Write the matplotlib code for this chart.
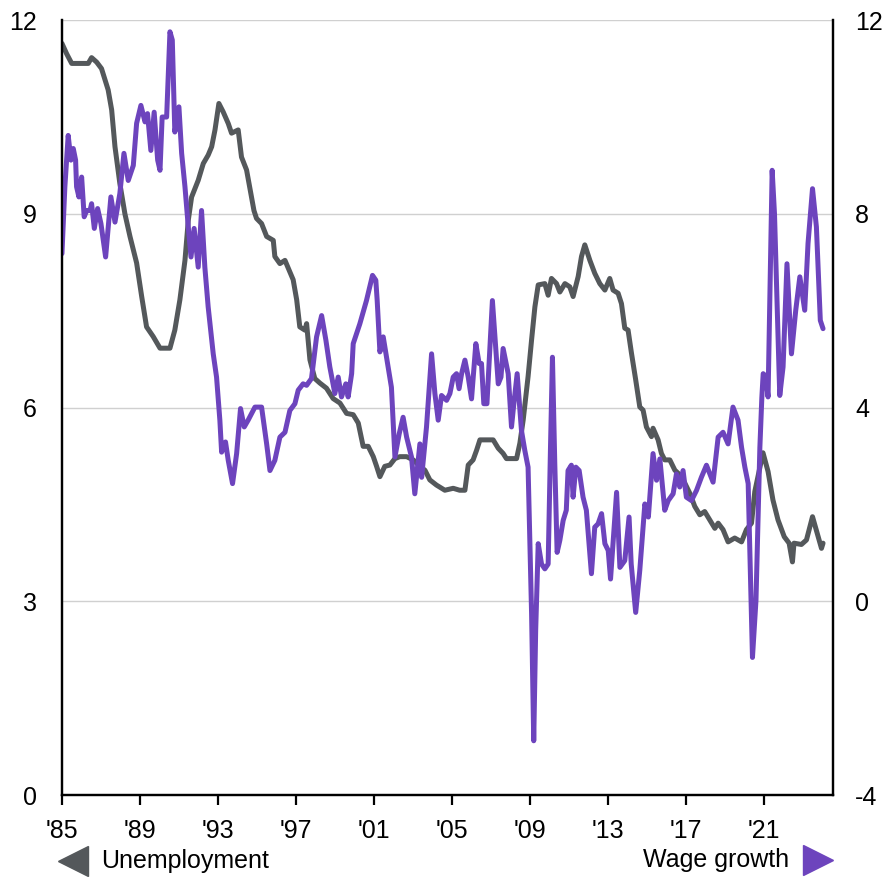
import matplotlib
matplotlib.use("Agg")
import matplotlib.pyplot as plt

plt.rcParams['font.family'] = ['Liberation Sans', 'DejaVu Sans']
plt.rcParams['axes.unicode_minus'] = False

# unemployment rate (left axis)
unemp_year = [1985.00, 1985.24, 1985.50, 1986.35, 1986.52, 1986.78, 1987.03, 1987.37, 1987.55, 1987.72,
              1987.97, 1988.23, 1988.49, 1988.83, 1989.09, 1989.34, 1989.68, 1990.03, 1990.54, 1990.79,
              1991.05, 1991.31, 1991.48, 1991.65, 1991.99, 1992.25, 1992.50, 1992.68, 1992.85, 1993.05,
              1993.27, 1993.53, 1993.70, 1994.04, 1994.21, 1994.47, 1994.85, 1994.98, 1995.24, 1995.50,
              1995.84, 1995.92, 1996.18, 1996.44, 1996.69, 1996.86, 1997.04, 1997.20, 1997.46, 1997.55,
              1997.72, 1997.97, 1998.23, 1998.57, 1998.91, 1999.26, 1999.60, 1999.94, 2000.20, 2000.45,
              2000.71, 2000.97, 2001.14, 2001.31, 2001.56, 2001.82, 2002.08, 2002.33, 2002.68, 2003.02,
              2003.36, 2003.62, 2003.87, 2004.21, 2004.64, 2005.07, 2005.40, 2005.67, 2005.84, 2006.09,
              2006.27, 2006.44, 2006.78, 2007.12, 2007.38, 2007.63, 2007.80, 2008.32, 2008.49, 2008.66,
              2008.91, 2009.09, 2009.26, 2009.43, 2009.77, 2009.94, 2010.11, 2010.37, 2010.54, 2010.80,
              2011.05, 2011.22, 2011.48, 2011.65, 2011.82, 2012.08, 2012.33, 2012.59, 2012.85, 2013.10,
              2013.27, 2013.53, 2013.70, 2013.87, 2014.04, 2014.21, 2014.42, 2014.64, 2014.81, 2014.98,
              2015.24, 2015.32, 2015.58, 2015.75, 2015.92, 2016.18, 2016.44, 2016.69, 2016.95, 2017.21,
              2017.46, 2017.72, 2017.97, 2018.23, 2018.49, 2018.66, 2018.91, 2019.17, 2019.51, 2019.86,
              2020.11, 2020.37, 2020.54, 2020.96, 2021.22, 2021.47, 2021.73, 2022.05, 2022.30, 2022.47,
              2022.55, 2022.93, 2023.19, 2023.50, 2023.96, 2024.04]
unemp_val = [11.64, 11.48, 11.33, 11.33, 11.42, 11.35, 11.25, 10.92, 10.61, 10.04,
             9.47, 9.00, 8.65, 8.24, 7.72, 7.25, 7.10, 6.92, 6.92, 7.20,
             7.67, 8.28, 8.90, 9.26, 9.52, 9.78, 9.91, 10.04, 10.30, 10.71,
             10.58, 10.40, 10.25, 10.30, 9.88, 9.68, 9.05, 8.93, 8.85, 8.65,
             8.59, 8.34, 8.23, 8.28, 8.10, 7.98, 7.67, 7.25, 7.20, 7.30,
             6.74, 6.45, 6.38, 6.30, 6.14, 6.07, 5.91, 5.89, 5.76, 5.40,
             5.40, 5.24, 5.09, 4.93, 5.09, 5.11, 5.21, 5.24, 5.24, 5.19,
             5.09, 5.03, 4.88, 4.80, 4.72, 4.75, 4.72, 4.72, 5.11, 5.19,
             5.34, 5.50, 5.50, 5.50, 5.37, 5.29, 5.21, 5.21, 5.45, 5.81,
             6.48, 7.05, 7.56, 7.90, 7.92, 7.74, 8.00, 7.92, 7.79, 7.92,
             7.87, 7.72, 8.03, 8.34, 8.52, 8.28, 8.08, 7.92, 7.82, 8.00,
             7.82, 7.77, 7.61, 7.23, 7.20, 6.85, 6.45, 6.01, 5.96, 5.70,
             5.55, 5.68, 5.50, 5.29, 5.19, 5.19, 5.03, 4.96, 4.83, 4.67,
             4.47, 4.34, 4.39, 4.26, 4.13, 4.21, 4.11, 3.92, 3.98, 3.92,
             4.11, 4.21, 4.70, 5.30, 5.01, 4.57, 4.26, 4.00, 3.90, 3.61,
             3.90, 3.88, 3.95, 4.31, 3.82, 3.90]

# wage growth (right axis)
wage_year = [1985.00, 1985.15, 1985.32, 1985.46, 1985.58, 1985.70, 1985.75, 1985.87, 1986.01, 1986.14,
             1986.27, 1986.44, 1986.52, 1986.66, 1986.83, 1987.00, 1987.24, 1987.51, 1987.72, 1987.97,
             1988.18, 1988.40, 1988.66, 1988.83, 1989.05, 1989.26, 1989.39, 1989.56, 1989.73, 1989.91,
             1990.03, 1990.14, 1990.37, 1990.54, 1990.66, 1990.79, 1991.00, 1991.14, 1991.31, 1991.48,
             1991.62, 1991.78, 1991.99, 1992.16, 1992.33, 1992.50, 1992.76, 1992.93, 1993.10, 1993.19,
             1993.39, 1993.53, 1993.75, 1993.96, 1994.16, 1994.35, 1994.55, 1994.90, 1995.24, 1995.50,
             1995.67, 1995.92, 1996.18, 1996.44, 1996.69, 1996.95, 1997.12, 1997.37, 1997.55, 1997.80,
             1998.06, 1998.32, 1998.54, 1998.74, 1999.00, 1999.17, 1999.34, 1999.56, 1999.68, 1999.86,
             1999.94, 2000.28, 2000.62, 2000.93, 2001.10, 2001.17, 2001.31, 2001.48, 2001.73, 2001.90,
             2002.08, 2002.30, 2002.50, 2002.68, 2002.93, 2003.10, 2003.36, 2003.45, 2003.70, 2003.96,
             2004.13, 2004.30, 2004.47, 2004.73, 2004.90, 2005.07, 2005.24, 2005.37, 2005.50, 2005.67,
             2005.84, 2006.01, 2006.23, 2006.40, 2006.52, 2006.64, 2006.80, 2007.08, 2007.21, 2007.38,
             2007.52, 2007.63, 2007.89, 2008.06, 2008.18, 2008.35, 2008.57, 2008.74, 2008.91, 2009.09,
             2009.20, 2009.30, 2009.43, 2009.60, 2009.77, 2009.94, 2010.06, 2010.16, 2010.28, 2010.40,
             2010.54, 2010.71, 2010.87, 2010.96, 2011.13, 2011.22, 2011.36, 2011.53, 2011.73, 2011.90,
             2012.16, 2012.33, 2012.50, 2012.68, 2012.85, 2013.02, 2013.14, 2013.31, 2013.45, 2013.62,
             2013.87, 2014.09, 2014.20, 2014.43, 2014.64, 2014.90, 2015.08, 2015.32, 2015.50, 2015.67,
             2015.92, 2016.10, 2016.35, 2016.52, 2016.69, 2016.86, 2017.03, 2017.29, 2017.55, 2017.80,
             2018.06, 2018.40, 2018.66, 2018.91, 2019.17, 2019.42, 2019.68, 2019.86, 2020.03, 2020.20,
             2020.42, 2020.60, 2020.80, 2020.90, 2020.97, 2021.10, 2021.22, 2021.43, 2021.55, 2021.82,
             2021.99, 2022.19, 2022.42, 2022.64, 2022.85, 2023.10, 2023.27, 2023.50, 2023.70, 2023.90,
             2024.04]
wage_val = [7.18, 8.56, 9.62, 9.11, 9.35, 9.11, 8.56, 8.35, 8.76, 7.94,
            8.07, 8.07, 8.21, 7.70, 8.11, 7.80, 7.11, 8.35, 7.83, 8.42,
            9.25, 8.69, 9.00, 9.87, 10.24, 9.90, 10.07, 9.31, 10.10, 9.11,
            8.90, 10.00, 10.00, 11.76, 11.59, 9.69, 10.21, 9.25, 8.56, 7.73,
            7.11, 7.70, 6.90, 8.07, 6.90, 6.08, 5.11, 4.63, 3.74, 3.08,
            3.29, 2.91, 2.43, 3.05, 3.98, 3.60, 3.74, 4.01, 4.01, 3.25,
            2.70, 2.91, 3.39, 3.49, 3.94, 4.08, 4.36, 4.49, 4.46, 4.60,
            5.46, 5.90, 5.39, 4.84, 4.29, 4.63, 4.22, 4.49, 4.22, 4.70,
            5.32, 5.73, 6.21, 6.73, 6.63, 6.21, 5.15, 5.46, 4.84, 4.42,
            2.98, 3.46, 3.80, 3.39, 2.98, 2.22, 3.25, 2.56, 3.60, 5.11,
            4.29, 3.74, 4.25, 4.15, 4.29, 4.63, 4.70, 4.39, 4.70, 4.98,
            4.63, 4.18, 5.32, 4.91, 4.91, 4.08, 4.08, 6.21, 5.46, 4.49,
            4.63, 5.22, 4.70, 3.60, 4.08, 4.70, 3.53, 3.12, 2.77, -0.26,
            -2.88, -0.60, 1.19, 0.77, 0.67, 0.77, 3.18, 5.04, 2.84, 1.01,
            1.26, 1.67, 1.88, 2.70, 2.81, 2.15, 2.77, 2.70, 2.15, 1.88,
            0.57, 1.53, 1.60, 1.81, 1.19, 1.05, 0.46, 1.46, 2.25, 0.70,
            0.84, 1.74, 0.77, -0.23, 0.64, 2.01, 1.74, 3.05, 2.50, 2.94,
            1.88, 2.08, 2.22, 2.63, 2.36, 2.70, 2.15, 2.08, 2.29, 2.56,
            2.81, 2.46, 3.39, 3.49, 3.25, 4.01, 3.74, 3.18, 2.77, 2.43,
            -1.16, 0.02, 3.18, 4.20, 4.70, 4.65, 4.22, 8.90, 8.00, 4.25,
            4.84, 6.97, 5.11, 6.01, 6.70, 6.01, 7.39, 8.52, 7.73, 5.80,
            5.63]

tick_years = [1985, 1989, 1993, 1997, 2001, 2005, 2009, 2013, 2017, 2021]
tick_labels = ["'85", "'89", "'93", "'97", "'01", "'05", "'09", "'13", "'17", "'21"]

GREY = '#54585B'
PURPLE = '#6D44BD'

fig = plt.figure(figsize=(8.85, 8.77), dpi=100)
ax = fig.add_axes([0.070, 0.0935, 0.871, 0.8835])
ax2 = ax.twinx()

ax.plot(unemp_year, unemp_val, color=GREY, lw=3.6, solid_joinstyle='round', solid_capstyle='round')
ax2.plot(wage_year, wage_val, color=PURPLE, lw=3.6, solid_joinstyle='round', solid_capstyle='round')

ax.set_xlim(1985, 2024.54)
ax.set_ylim(0, 12)
ax2.set_ylim(-4, 12)
ax.set_yticks([0, 3, 6, 9, 12])
ax2.set_yticks([-4, 0, 4, 8, 12])
ax.set_xticks(tick_years)
ax.set_xticklabels(tick_labels)

ax.grid(axis='y', color='#D0D0D0', lw=1.0)
ax.set_axisbelow(True)

for a in (ax, ax2):
    a.spines['top'].set_visible(False)
    for s in ('left', 'right', 'bottom'):
        a.spines[s].set_linewidth(1.6)
        a.spines[s].set_color('black')

ax.tick_params(axis='y', length=0, pad=18, labelsize=18)
ax2.tick_params(axis='y', length=0, pad=16, labelsize=18)
ax.tick_params(axis='x', length=7, width=1.6, pad=10, labelsize=18)

# legend along the bottom
fig.add_artist(plt.Line2D([73 / 885], [1 - 861 / 877], marker='<', markersize=21,
                          color=GREY, linestyle='none', transform=fig.transFigure))
fig.text(101 / 885, 1 - 861 / 877, 'Unemployment', fontsize=18, va='center', ha='left')
fig.add_artist(plt.Line2D([818 / 885], [1 - 860 / 877], marker='>', markersize=21,
                          color=PURPLE, linestyle='none', transform=fig.transFigure))
fig.text(789 / 885, 1 - 860 / 877, 'Wage growth', fontsize=18, va='center', ha='right')

fig.savefig('out.png', dpi=100)
